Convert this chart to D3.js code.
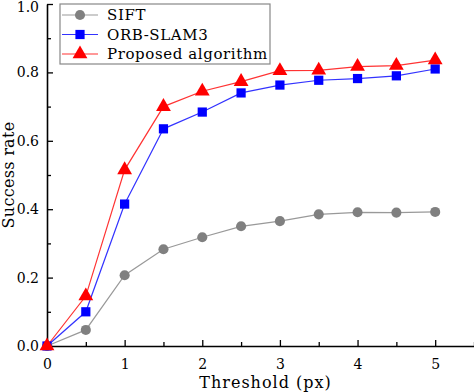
<!DOCTYPE html>
<html>
<head>
<meta charset="utf-8">
<script src="https://cdn.jsdelivr.net/npm/d3@7"></script>
<style>
  body { margin: 0; background: #fff; }
  text { font-family: "DejaVu Serif", serif; }
</style>
</head>
<body>
<div id="chart"></div>
<script>
var thresholds = [0, 0.5, 1, 1.5, 2, 2.5, 3, 3.5, 4, 4.5, 5];
var sift = [0, 0.047, 0.207, 0.283, 0.318, 0.35, 0.365, 0.385, 0.391, 0.39, 0.392];
var orbSlam3 = [0, 0.1, 0.415, 0.635, 0.684, 0.74, 0.763, 0.777, 0.782, 0.79, 0.81];
var proposed = [0, 0.146, 0.515, 0.70, 0.745, 0.773, 0.805, 0.806, 0.817, 0.82, 0.836];
var seriesNames = ["SIFT", "ORB-SLAM3", "Proposed algorithm"];
var xTicks = [0, 1, 2, 3, 4, 5];
var yTicks = [0, 0.2, 0.4, 0.6, 0.8, 1.0];

var margin = {top: 4, right: 0, bottom: 46, left: 47},
    width = 474 - margin.left - margin.right,
    height = 392 - margin.top - margin.bottom;

var svg = d3.select("#chart")
  .append("svg")
    .attr("width", width + margin.left + margin.right)
    .attr("height", height + margin.top + margin.bottom)
  .append("g")
    .attr("transform", "translate(" + margin.left + "," + margin.top + ")");

var x = d3.scaleLinear().domain([0, 5.5]).range([0, width]);
var y = d3.scaleLinear().domain([0, 1]).range([height, 0]);

// minor ticks (inward)
svg.append("g")
    .attr("transform", "translate(0," + height + ")")
    .call(d3.axisTop(x).tickValues(d3.range(0.5, 5.6, 1)).tickSize(4).tickFormat(""))
    .call(g => g.select(".domain").remove())
    .selectAll("line").attr("stroke-width", 1.3);
svg.append("g")
    .call(d3.axisRight(y).tickValues(d3.range(0.1, 1, 0.2)).tickSize(4).tickFormat(""))
    .call(g => g.select(".domain").remove())
    .selectAll("line").attr("stroke-width", 1.3);

// x axis
var xAxis = svg.append("g")
    .attr("transform", "translate(0," + height + ")")
    .call(d3.axisBottom(x).tickValues(xTicks).tickSizeInner(-6).tickSizeOuter(0).tickPadding(13)
      .tickFormat(d3.format("d")));
xAxis.select(".domain").attr("stroke-width", 1.6);
xAxis.selectAll(".tick line").attr("stroke-width", 1.3);
xAxis.selectAll("text").attr("font-size", 14).attr("font-family", "DejaVu Serif").attr("fill", "#000");

// y axis
var yAxis = svg.append("g")
    .call(d3.axisLeft(y).tickValues(yTicks).tickSizeInner(-6).tickSizeOuter(0).tickPadding(8)
      .tickFormat(d3.format(".1f")));
yAxis.select(".domain").attr("stroke-width", 1.6);
yAxis.selectAll(".tick line").attr("stroke-width", 1.3);
yAxis.selectAll("text").attr("font-size", 14).attr("font-family", "DejaVu Serif").attr("fill", "#000");
yAxis.selectAll(".tick").filter(function(d) { return d === 1; }).select("text").attr("dy", "0.55em");

// axis titles
svg.append("text")
    .attr("x", width / 2 + 5)
    .attr("y", height + 42)
    .attr("text-anchor", "middle")
    .attr("font-size", 16)
    .attr("letter-spacing", 1)
    .text("Threshold (px)");

svg.append("text")
    .attr("transform", "translate(" + (-33) + "," + (height / 2) + ") rotate(-90)")
    .attr("text-anchor", "middle")
    .attr("font-size", 16)
    .attr("letter-spacing", 0.3)
    .text("Success rate");

var series = [
  {name: seriesNames[0], values: sift, color: "#808080", line: "#999999", shape: d3.symbolCircle, size: 80},
  {name: seriesNames[1], values: orbSlam3, color: "#0000ff", line: "#3333ff", shape: d3.symbolSquare, size: 85},
  {name: seriesNames[2], values: proposed, color: "#ff0000", line: "#ff3333", shape: d3.symbolTriangle, size: 95}
];

var line = d3.line()
    .x(function(d, i) { return x(thresholds[i]); })
    .y(function(d) { return y(d); });

series.forEach(function(s) {
  svg.append("path")
      .datum(s.values)
      .attr("fill", "none")
      .attr("stroke", s.line)
      .attr("stroke-width", 1.2)
      .attr("d", line);
});

series.forEach(function(s) {
  svg.selectAll(null)
      .data(s.values)
      .enter()
      .append("path")
        .attr("transform", function(d, i) { return "translate(" + x(thresholds[i]) + "," + y(d) + ")"; })
        .attr("d", d3.symbol().type(s.shape).size(s.size))
        .attr("fill", s.color);
});

// legend
var legend = svg.append("g").attr("transform", "translate(" + (60 - margin.left) + "," + 0 + ")");
legend.append("rect")
    .attr("width", 210)
    .attr("height", 60)
    .attr("fill", "#fff")
    .attr("stroke", "#888")
    .attr("stroke-width", 1.2);

series.forEach(function(s, i) {
  var gy = 11 + i * 19.5;
  legend.append("line")
      .attr("x1", 2).attr("x2", 38)
      .attr("y1", gy).attr("y2", gy)
      .attr("stroke", s.line)
      .attr("stroke-width", 1.2);
  legend.append("path")
      .attr("transform", "translate(20," + gy + ")")
      .attr("d", d3.symbol().type(s.shape).size(s.size))
      .attr("fill", s.color);
  legend.append("text")
      .attr("x", 47)
      .attr("y", gy + 5)
      .attr("font-size", 15)
      .attr("letter-spacing", 0.6)
      .text(s.name);
});
</script>
</body>
</html>
